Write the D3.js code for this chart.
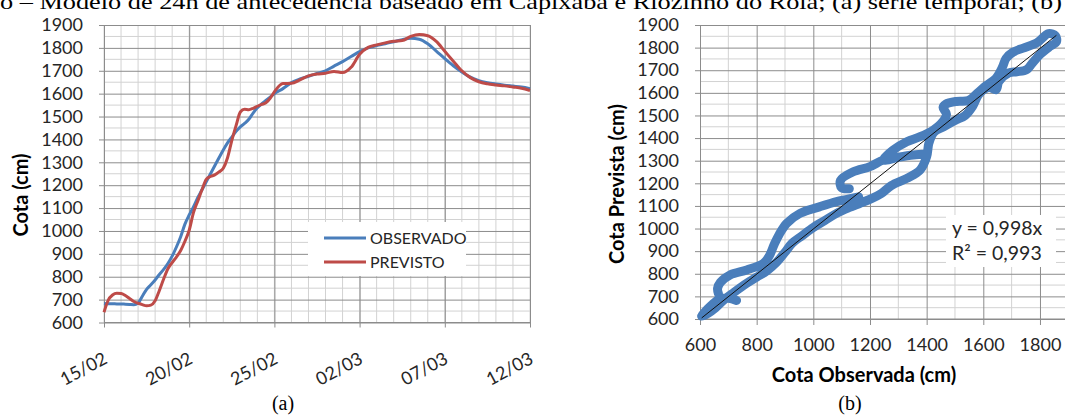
<!DOCTYPE html>
<html>
<head>
<meta charset="utf-8">
<script src="https://cdn.jsdelivr.net/npm/d3@7"></script>
<style>
  html, body { margin: 0; padding: 0; background: #fff; overflow: hidden; }
  svg { display: block; }
</style>
</head>
<body>
<svg id="fig" width="1065" height="415"></svg>
<script>
// ---------- (a) série temporal ----------
// instantes em dias decorridos desde 15/02 00h
const dias = [
  0, 0.25, 0.5, 0.75, 1, 1.25, 1.5, 1.75, 2, 2.25, 2.5, 2.75, 3, 3.25, 3.5, 3.75,
  4, 4.25, 4.5, 4.75, 5, 5.25, 5.5, 5.75, 6, 6.25, 6.5, 6.75, 7, 7.25, 7.5, 7.75,
  8, 8.25, 8.5, 8.75, 9, 9.25, 9.5, 9.75, 10, 10.5, 11, 11.5, 12, 12.5, 13, 13.5,
  14, 14.5, 15, 15.5, 16, 16.5, 17, 17.5, 18, 18.5, 19, 19.5, 20, 20.5, 21, 21.5,
  22, 22.5, 23, 23.5, 24, 24.5, 25
];
const cotaObservada = [
  683, 682, 682, 681, 681, 680, 679, 678, 685, 715, 745, 765, 786, 810, 832, 858,
  890, 930, 975, 1030, 1070, 1105, 1145, 1180, 1215, 1250, 1285, 1320, 1354, 1385, 1410, 1435,
  1455, 1470, 1488, 1515, 1538, 1555, 1570, 1585, 1600, 1622, 1648, 1664, 1676, 1688, 1700, 1720,
  1740, 1762, 1784, 1800, 1810, 1818, 1827, 1836, 1842, 1838, 1818, 1786, 1753, 1722, 1695, 1672,
  1657, 1648, 1642, 1637, 1633, 1629, 1622
];
const cotaPrevista = [
  645, 698, 720, 728, 727, 718, 705, 692, 684, 678, 673, 676, 695, 740, 790, 835,
  862, 886, 915, 955, 1003, 1080, 1130, 1180, 1225, 1238, 1245, 1258, 1274, 1320, 1395, 1460,
  1520, 1532, 1530, 1536, 1545, 1553, 1560, 1580, 1608, 1644, 1645, 1660, 1678, 1686, 1689, 1697,
  1692, 1715, 1772, 1802, 1813, 1822, 1829, 1832, 1850, 1858, 1853, 1828, 1785, 1742, 1700, 1670,
  1652, 1643, 1638, 1634, 1629, 1624, 1614
];
const rotulosDatas = ["15/02", "20/02", "25/02", "02/03", "07/03", "12/03"];
const ticksCota = [600, 700, 800, 900, 1000, 1100, 1200, 1300, 1400, 1500, 1600, 1700, 1800, 1900];
const nomesSeries = ["OBSERVADO", "PREVISTO"];

// ---------- (b) dispersão observada x prevista ----------
// trajetória dos pares (null separa trechos)
const dispObservada = [
  729, 700, 668, 640, 615, 606, 628, 655, 685, 720, 765, 800, 835, 870, 900, 925,
  960, 1000, 1040, 1082, 1125, 1165, 1205, 1240, 1275, 1330, 1377, 1400, 1408, 1425, 1460, 1500,
  1536, 1562, 1585, 1620, 1645, 1655, 1690, 1718, 1753, 1772, 1800, 1835, 1858, 1855, 1830,
  1790, 1741, 1705, 1680, 1668, 1645, 1610, 1580, 1548, 1505, 1468, 1458, 1470, 1450, 1424, 1377,
  1330, 1282, 1247, 1300, 1353, 1398, 1353, 1300, 1247, 1200, 1141, 1096, 1100, 1127,
  null,
  1160, 1115, 1082, 1024, 953, 906, 880, 862, 845, 824, 765, 706, 672, 662, 665
];
const dispPrevista = [
  682, 692, 688, 660, 628, 612, 625, 650, 685, 718, 758, 785, 812, 850, 895, 935,
  968, 1005, 1035, 1067, 1092, 1112, 1132, 1155, 1190, 1222, 1259, 1318, 1378, 1425, 1450, 1478,
  1500, 1540, 1595, 1625, 1614, 1650, 1688, 1693, 1703, 1730, 1770, 1805, 1825, 1852, 1862,
  1822, 1798, 1780, 1752, 1715, 1665, 1632, 1600, 1566, 1562, 1550, 1535, 1505, 1462, 1436, 1406,
  1384, 1347, 1303, 1315, 1325, 1330, 1325, 1315, 1303, 1274, 1251, 1213, 1180, 1176,
  null,
  1140, 1128, 1119, 1097, 1067, 1023, 975, 930, 880, 846, 817, 795, 762, 735, 712
];
const ticksObservada = [600, 800, 1000, 1200, 1400, 1600, 1800];
const coefAngular = 0.998;
const coefR2 = 0.993;

// ---------- estilo ----------
const AZUL = "#4a7ebb";
const VERMELHO = "#be4b48";
const GRADE_MAIOR = "#8c8c8c";
const GRADE_MENOR = "#d2d2d2";
const TEXTO = "#262626";
const FONTE = "Lato, 'Open Sans', sans-serif";
const SERIFA = "'Liberation Serif', 'DejaVu Serif', serif";
const numero = d3.format("d");

const svg = d3.select("#fig");

// legenda do quadro, cortada no alto
svg.append("text")
  .attr("x", 0).attr("y", 9)
  .attr("font-family", SERIFA).attr("font-size", 21)
  .attr("textLength", 1062).attr("lengthAdjust", "spacingAndGlyphs")
  .attr("fill", "#000")
  .text("o – Modelo de 24h de antecedência baseado em Capixaba e Riozinho do Rola; (a) série temporal; (b)");

// ================= (a) =================
const parseDia = d3.utcParse("%d/%m/%Y");
const dataRotulo = s => parseDia(s + "/2014");
const inicio = dataRotulo(rotulosDatas[0]);
const fim = dataRotulo(rotulosDatas[rotulosDatas.length - 1]);
const instante = d => new Date(inicio.getTime() + d * 864e5);

const xA = d3.scaleUtc().domain([inicio, fim]).range([104, 530]);
const yA = d3.scaleLinear().domain([600, 1900]).range([322.5, 25]);

const gA = svg.append("g");

// grade menor: diária e de 50 cm
gA.append("g").selectAll("line")
  .data(d3.utcDay.range(inicio, d3.utcDay.offset(fim, 1)))
  .join("line")
  .attr("x1", d => xA(d)).attr("x2", d => xA(d))
  .attr("y1", yA(600)).attr("y2", yA(1900))
  .attr("stroke", GRADE_MENOR).attr("stroke-width", 1);
gA.append("g").selectAll("line")
  .data(d3.range(650, 1900, 100))
  .join("line")
  .attr("x1", xA(inicio)).attr("x2", xA(fim))
  .attr("y1", d => yA(d)).attr("y2", d => yA(d))
  .attr("stroke", GRADE_MENOR).attr("stroke-width", 1);

// grade maior com marcas de escala
const gyA = gA.append("g").attr("transform", `translate(${xA(inicio)},0)`)
  .call(d3.axisLeft(yA).tickValues(ticksCota).tickFormat(numero).tickSize(5));
gyA.select(".domain").remove();
gyA.selectAll(".tick line").attr("x1", -5).attr("x2", xA(fim) - xA(inicio)).attr("stroke", GRADE_MAIOR);
gyA.selectAll(".tick text").attr("font-family", FONTE).attr("font-size", 18).attr("fill", TEXTO)
  .attr("x", -21);

const gxA = gA.append("g").attr("transform", `translate(0,${yA(600)})`)
  .call(d3.axisBottom(xA).tickValues(rotulosDatas.map(dataRotulo))
    .tickFormat(d3.utcFormat("%d/%m")).tickSize(0));
gxA.select(".domain").remove();
gxA.selectAll(".tick line").attr("y1", -(yA(600) - yA(1900))).attr("y2", 5)
  .attr("stroke", GRADE_MAIOR);
gxA.selectAll(".tick text")
  .attr("font-family", FONTE).attr("font-size", 18).attr("fill", TEXTO)
  .attr("text-anchor", "end").attr("dy", null).attr("y", null)
  .attr("transform", "translate(4,40) rotate(-28)");

gA.append("line")
  .attr("x1", xA(inicio)).attr("x2", xA(fim)).attr("y1", yA(600)).attr("y2", yA(600))
  .attr("stroke", GRADE_MAIOR);

// séries
const linhaA = (serie) => d3.line()
  .x((d, i) => xA(instante(dias[i])))
  .y(d => yA(d))
  .curve(d3.curveMonotoneX)(serie);

gA.append("path").attr("d", linhaA(cotaObservada))
  .attr("fill", "none").attr("stroke", AZUL).attr("stroke-width", 3).attr("stroke-linejoin", "round");
gA.append("path").attr("d", linhaA(cotaPrevista))
  .attr("fill", "none").attr("stroke", VERMELHO).attr("stroke-width", 3).attr("stroke-linejoin", "round");

// título do eixo
svg.append("text")
  .attr("transform", `translate(28,195) rotate(-90)`)
  .attr("text-anchor", "middle")
  .attr("font-family", FONTE).attr("font-weight", "bold").attr("font-size", 20).attr("fill", "#000")
  .text("Cota (cm)");

// legenda
const leg = svg.append("g").attr("transform", "translate(308,222)");
leg.append("rect").attr("width", 158).attr("height", 54).attr("fill", "#fff");
nomesSeries.forEach((nome, i) => {
  const yy = 16 + i * 24;
  leg.append("line").attr("x1", 16).attr("x2", 58).attr("y1", yy).attr("y2", yy)
    .attr("stroke", i === 0 ? AZUL : VERMELHO).attr("stroke-width", 3);
  leg.append("text").attr("x", 62).attr("y", yy + 6)
    .attr("font-family", FONTE).attr("font-size", 16).attr("fill", TEXTO).text(nome);
});

svg.append("text").attr("x", 283).attr("y", 410).attr("text-anchor", "middle")
  .attr("font-family", SERIFA).attr("font-size", 20).attr("fill", "#000").text("(a)");

// ================= (b) =================
const xB = d3.scaleLinear().domain([600, 1900]).range([700, 1068.3]);
const yB = d3.scaleLinear().domain([600, 1900]).range([319, 25]);
const gB = svg.append("g");

// grade menor
gB.append("g").selectAll("line")
  .data(d3.range(700, 1900, 200))
  .join("line")
  .attr("x1", d => xB(d)).attr("x2", d => xB(d)).attr("y1", yB(600)).attr("y2", yB(1900))
  .attr("stroke", GRADE_MENOR);
gB.append("g").selectAll("line")
  .data(d3.range(650, 1900, 100))
  .join("line")
  .attr("x1", xB(600)).attr("x2", xB(1900)).attr("y1", d => yB(d)).attr("y2", d => yB(d))
  .attr("stroke", GRADE_MENOR);

// grade maior
const gyB = gB.append("g").attr("transform", `translate(${xB(600)},0)`)
  .call(d3.axisLeft(yB).tickValues(ticksCota).tickFormat(numero).tickSize(5));
gyB.select(".domain").remove();
gyB.selectAll(".tick line").attr("x1", -5).attr("x2", xB(1900) - xB(600)).attr("stroke", GRADE_MAIOR);
gyB.selectAll(".tick text").attr("font-family", FONTE).attr("font-size", 18).attr("fill", TEXTO)
  .attr("x", -21);

const gxB = gB.append("g").attr("transform", `translate(0,${yB(600)})`)
  .call(d3.axisBottom(xB).tickValues(ticksObservada).tickFormat(numero).tickSize(5).tickPadding(14));
gxB.select(".domain").remove();
gxB.selectAll(".tick line").attr("y1", -(yB(600) - yB(1900))).attr("y2", 6).attr("stroke", GRADE_MAIOR);
gxB.selectAll(".tick text").attr("font-family", FONTE).attr("font-size", 18).attr("fill", TEXTO);
gB.append("line").attr("x1", xB(600)).attr("x2", xB(1900)).attr("y1", yB(600)).attr("y2", yB(600))
  .attr("stroke", GRADE_MAIOR);

// pontos (marcadores densos ao longo da trajetória)
const linhaB = d3.line()
  .defined((d, i) => dispObservada[i] !== null && dispPrevista[i] !== null)
  .x((d, i) => xB(dispObservada[i]))
  .y((d, i) => yB(dispPrevista[i]))
  .curve(d3.curveCatmullRom.alpha(0.5));
gB.append("path").attr("d", linhaB(dispObservada))
  .attr("fill", "none").attr("stroke", AZUL).attr("stroke-width", 9)
  .attr("stroke-linejoin", "round").attr("stroke-linecap", "round");

// linha de tendência y = a·x
const xsValidos = dispObservada.filter(v => v !== null);
const [xmin, xmax] = d3.extent(xsValidos);
gB.append("line")
  .attr("x1", xB(xmin)).attr("y1", yB(coefAngular * xmin))
  .attr("x2", xB(xmax)).attr("y2", yB(coefAngular * xmax))
  .attr("stroke", "#111").attr("stroke-width", 1);

// equação
const fmt = d3.format(".3f");
const virgula = v => fmt(v).replace(".", ",");
const eq = svg.append("g").attr("transform", "translate(946,215)");
eq.append("rect").attr("width", 110).attr("height", 52).attr("fill", "#fff");
eq.append("text").attr("x", 6).attr("y", 20)
  .attr("font-family", FONTE).attr("font-size", 19.5).attr("fill", TEXTO)
  .text(`y = ${virgula(coefAngular)}x`);
eq.append("text").attr("x", 6).attr("y", 45)
  .attr("font-family", FONTE).attr("font-size", 19.5).attr("fill", TEXTO)
  .text(`R² = ${virgula(coefR2)}`);

// títulos dos eixos
svg.append("text")
  .attr("transform", `translate(624,184) rotate(-90)`)
  .attr("text-anchor", "middle")
  .attr("font-family", FONTE).attr("font-weight", "bold").attr("font-size", 20).attr("fill", "#000")
  .text("Cota Prevista (cm)");
svg.append("text")
  .attr("x", 864).attr("y", 382).attr("text-anchor", "middle")
  .attr("font-family", FONTE).attr("font-weight", "bold").attr("font-size", 20).attr("fill", "#000")
  .text("Cota Observada (cm)");

svg.append("text").attr("x", 850).attr("y", 410).attr("text-anchor", "middle")
  .attr("font-family", SERIFA).attr("font-size", 20).attr("fill", "#000").text("(b)");
</script>
</body>
</html>
